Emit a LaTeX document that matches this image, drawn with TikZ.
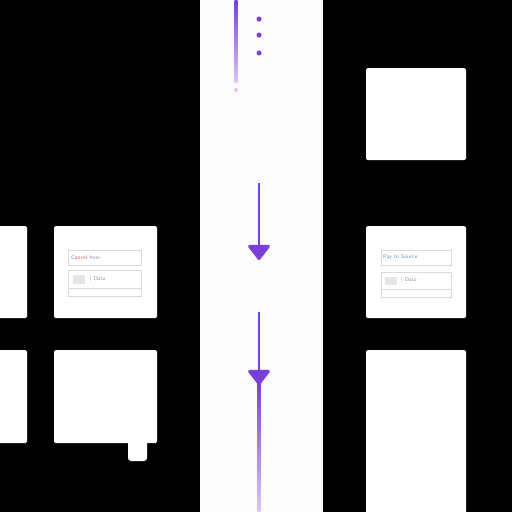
\documentclass[tikz,border=0pt]{standalone}
\usetikzlibrary{arrows.meta}
\definecolor{purp}{HTML}{7B3FD8}
\definecolor{lpurp}{HTML}{D9C6F5}
\definecolor{fieldln}{HTML}{DADADA}
\definecolor{txtblue}{HTML}{5A8FD8}
\definecolor{txtred}{HTML}{D85A70}
\definecolor{txtgray}{HTML}{8A95A8}
\begin{document}
\begin{tikzpicture}[x=1pt,y=-1pt,
  card/.style={fill=white,rounded corners=1.5pt},
  field/.style={draw=fieldln,line width=0.8pt,fill=white},
  flow/.style={draw=purp,line width=2.8pt,-{Triangle[width=24pt,length=16pt,round]}},
  dotm/.style={circle,fill=purp,inner sep=0pt,minimum size=5pt},
  lbl/.style={font=\sffamily\fontsize{5.5}{6}\selectfont,anchor=west,inner sep=0pt}]
\useasboundingbox (0,0) rectangle (512,512);
\fill[black] (0,0) rectangle (512,512);
% central band
\fill[white!97!gray] (200,0) rectangle (323,512);
% top fading line
\shade[top color=purp,bottom color=lpurp] (234.5,0) rectangle (237.5,82);
\node[circle,fill=lpurp,inner sep=0pt,minimum size=4pt] (fd) at (236,90) {};
\node[dotm] (d1) at (259,19) {};
\node[dotm] (d2) at (259,35) {};
\node[dotm] (d3) at (259,53) {};
% arrows
\coordinate (a1s) at (259,183);
\coordinate (a1e) at (259,260);
\coordinate (a2s) at (259,312);
\coordinate (a2e) at (259,385);
\draw[flow] (a1s) -- (a1e);
\shade[top color=purp,bottom color=lpurp] (257.7,380) rectangle (260.3,512);
\draw[flow] (a2s) -- (a2e);
% left cards
\node[card,minimum width=40pt,minimum height=92pt,inner sep=0pt] (lp1) at (7,272) {};
\node[card,minimum width=40pt,minimum height=93pt,inner sep=0pt] (lp2) at (7,396.5) {};
\node[card,minimum width=103pt,minimum height=92pt,inner sep=0pt] (lc1) at (105.5,272) {};
\node[card,minimum width=103pt,minimum height=93pt,inner sep=0pt] (lc2) at (105.5,396.5) {};
\fill[white,rounded corners=3pt] (128,438) rectangle (147,461);
% right cards
\node[card,minimum width=100pt,minimum height=92pt,inner sep=0pt] (rc0) at (416,114) {};
\node[card,minimum width=100pt,minimum height=92pt,inner sep=0pt] (rc1) at (416,272) {};
\fill[white,rounded corners=1.5pt] (366,350) rectangle (466,514);
\node[inner sep=0pt] (rc2) at (416,430) {};
% left card fields
\draw[field] (68,250) rectangle (141,265);
\node[lbl] (lt1) at (71,257.5) {\textcolor{txtblue}{C}\textcolor{txtred}{ancel} \textcolor{txtgray}{Item}};
\draw[field] (68,270) rectangle (141,296);
\draw[fieldln,line width=0.8pt] (68,288) -- (141,288);
\fill[fieldln!70!white] (73,275) rectangle (85,284);
\node[lbl,text=txtblue] (lt2) at (90,279.5) {|\ \textcolor{txtgray}{Data}};
% right card fields
\draw[field] (381,250) rectangle (451,265);
\node[lbl,text=txtblue] (rt1) at (383,257.5) {Pay to Source};
\draw[field] (381,272) rectangle (451,297);
\draw[fieldln,line width=0.8pt] (381,289) -- (451,289);
\fill[fieldln!70!white] (385,277) rectangle (397,285);
\node[lbl,text=txtblue] (rt2) at (401,280.5) {|\ \textcolor{txtgray}{Data}};
\end{tikzpicture}
\end{document}
